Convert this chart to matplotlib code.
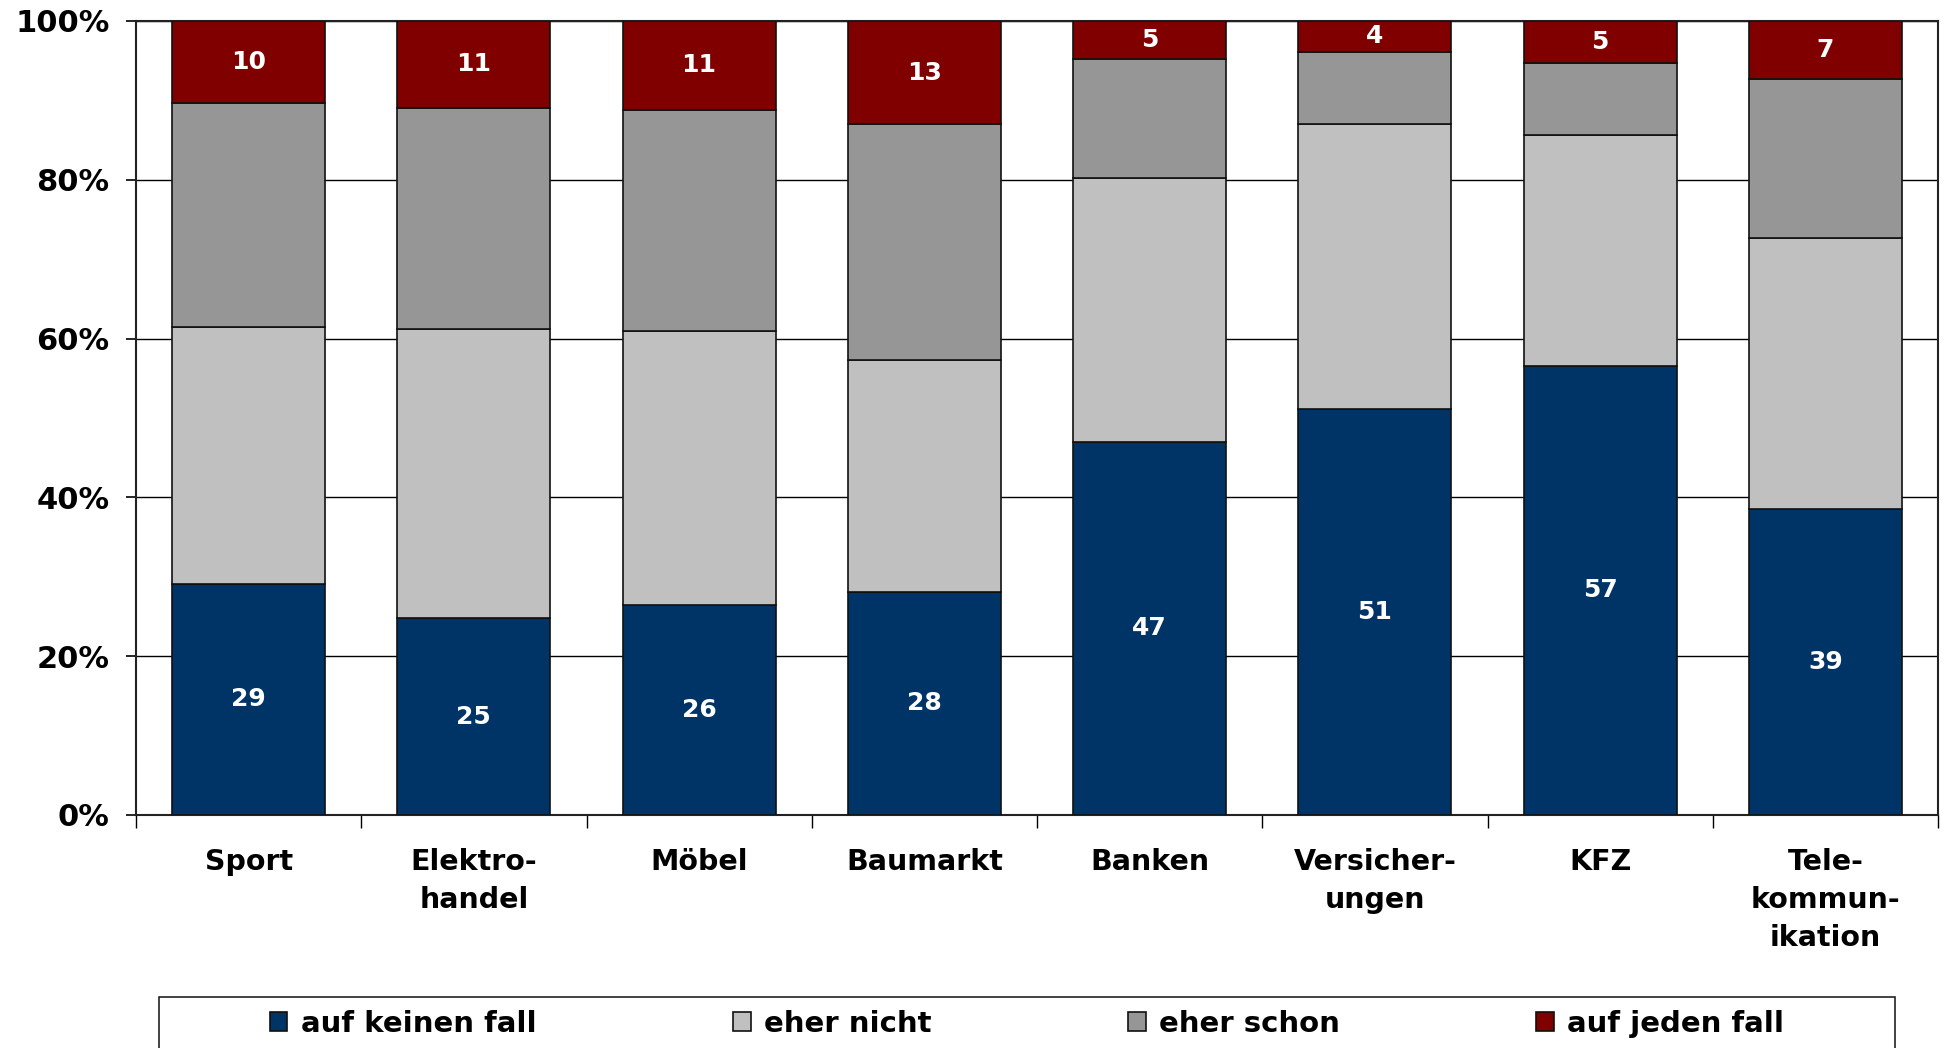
import numpy as np
import matplotlib
matplotlib.use("Agg")
import matplotlib.pyplot as plt
from matplotlib.patches import Rectangle

# survey shares (percent) per sector
categories = ["Sport", "Elektro-\nhandel", "Möbel", "Baumarkt", "Banken",
              "Versicher-\nungen", "KFZ", "Tele-\nkommun-\nikation"]
series_names = ["auf keinen fall", "eher nicht", "eher schon", "auf jeden fall"]
auf_keinen_fall = [29.1, 24.8, 26.4, 28.1, 47.0, 51.1, 56.6, 38.6]
eher_nicht = [32.3, 36.4, 34.5, 29.2, 33.2, 35.9, 29.0, 34.1]
eher_schon = [28.3, 27.9, 27.9, 29.7, 15.0, 9.1, 9.1, 20.0]
auf_jeden_fall = [10.3, 10.9, 11.2, 13.0, 4.8, 3.9, 5.3, 7.3]
colors = ["#003366", "#C0C0C0", "#969696", "#800000"]
labelled = [True, False, False, True]
yticks = [0, 20, 40, 60, 80, 100]

plt.rcParams['font.family'] = ['DejaVu Sans']
plt.rcParams['font.weight'] = 'bold'

fig = plt.figure(figsize=(19.46, 10.48), dpi=100)
ax = fig.add_axes([136/1946, 1-815/1048, (1938-136)/1946, (815-21)/1048])

x = np.arange(len(categories))
bottom = np.zeros(len(categories))
handles = []
for name, vals, col, lab in zip(series_names,
                                [auf_keinen_fall, eher_nicht, eher_schon, auf_jeden_fall],
                                colors, labelled):
    vals = np.array(vals)
    bars = ax.bar(x, vals, 0.68, bottom=bottom, color=col, edgecolor="#111111",
                  linewidth=1.2, label=name, zorder=3)
    handles.append(bars)
    if lab:
        ax.bar_label(bars, labels=[f"{v:.0f}" for v in vals], label_type="center",
                     color="white", fontsize=18, fontweight="bold")
    bottom += vals

ax.set_xlim(-0.5, len(categories) - 0.5)
ax.set_ylim(0, 100)
ax.set_yticks(yticks)
ax.set_yticklabels([f"{t}%" for t in yticks], fontsize=22, fontweight="bold")
ax.yaxis.grid(True, color="black", linewidth=1.0, zorder=0)
ax.tick_params(axis="y", direction="out", length=7, width=1.2, pad=12)

ax.set_xticks(x)
ax.set_xticklabels(categories, fontsize=20.5, fontweight="bold", va="top",
                   linespacing=1.45)
ax.set_xticks(np.arange(len(categories) + 1) - 0.5, minor=True)
ax.tick_params(axis="x", which="major", length=0, pad=24)
ax.tick_params(axis="x", which="minor", direction="out", length=9, width=1.0)

for s in ax.spines.values():
    s.set_linewidth(1.5)
    s.set_color("#222222")

# legend box at the bottom (cut off by the figure edge as in the original)
fig.patches.append(Rectangle((159/1946, -0.05), (1895-159)/1946, 0.05 + 1-997/1048,
                             transform=fig.transFigure, fill=False,
                             edgecolor="#222222", linewidth=1.2))
fig.legend(handles=handles, labels=series_names, loc="center",
           bbox_to_anchor=((159+1895)/2/1946, 1-1024/1048), ncol=4, frameon=False,
           prop={"weight": "bold", "size": 21},
           handlelength=0.6, handleheight=0.6, handletextpad=0.45,
           columnspacing=6.75)

fig.savefig("out.png", dpi=100)
